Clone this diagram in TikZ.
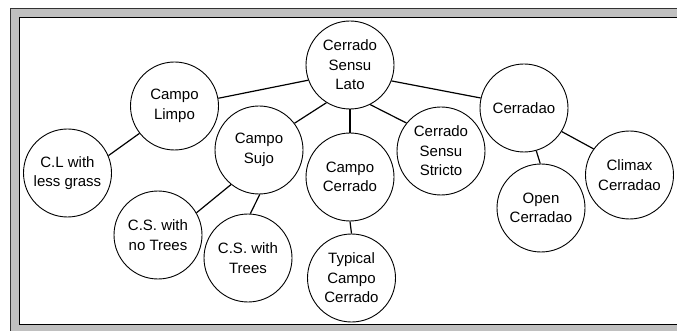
\documentclass[tikz,border=0pt]{standalone}
\usepackage{fontspec}
\setmainfont{Liberation Sans}
\begin{document}
\begin{tikzpicture}[x=1pt,y=-1pt,
  bub/.style={circle,draw=black,line width=0.9pt,fill=white,minimum size=88pt,inner sep=0pt,align=center,font=\fontsize{15}{19.5}\selectfont},
  link/.style={draw=black,line width=1.2pt}]
\useasboundingbox (0,0) rectangle (677,331);
\clip (0,0) rectangle (677,331);
% frame
\fill[white] (0,0) rectangle (677,331);
\draw[fill={rgb,255:red,192;green,192;blue,192},draw=black!80,line width=1pt] (10.5,8.5) rectangle (700,345);
\draw[fill=white,draw=black,line width=1pt] (19.5,17.5) rectangle (700,324.5);
% nodes
\node[bub] (csl) at (350,65) {Cerrado\\Sensu\\Lato};
\node[bub] (cl) at (174.5,106) {Campo\\Limpo};
\node[bub] (cs) at (259,150) {Campo\\Sujo};
\node[bub] (cc) at (350,177) {Campo\\Cerrado};
\node[bub] (css) at (441,151) {Cerrado\\Sensu\\Stricto};
\node[bub] (cd) at (524,108) {Cerradao};
\node[bub] (clg) at (67.5,173) {C.L with\\less grass};
\node[bub] (csn) at (158,235) {C.S. with\\no Trees};
\node[bub] (cst) at (248,258) {C.S. with\\Trees};
\node[bub] (tcc) at (351.5,278) {Typical\\Campo\\Cerrado};
\node[bub] (oc) at (541,208) {Open\\Cerradao};
\node[bub] (clx) at (629.5,175) {Climax\\Cerradao};
% links
\draw[link] (csl.200) -- (cl.10);
\draw[link] (csl.238) -- (cs.37);
\draw[link] (csl.south) -- (cc.north);
\draw[link] (csl.297) -- (css.141);
\draw[link] (csl.339) -- (cd.167);
\draw[link] (cl.218) -- (clg.23);
\draw[link] (cs.231) -- (csn.30);
\draw[link] (cs.271) -- (cst.87);
\draw[link] (cc.south) -- (tcc.north);
\draw[link] (cd.286) -- (oc.91);
\draw[link] (cd.328) -- (clx.144);
\end{tikzpicture}
\end{document}
